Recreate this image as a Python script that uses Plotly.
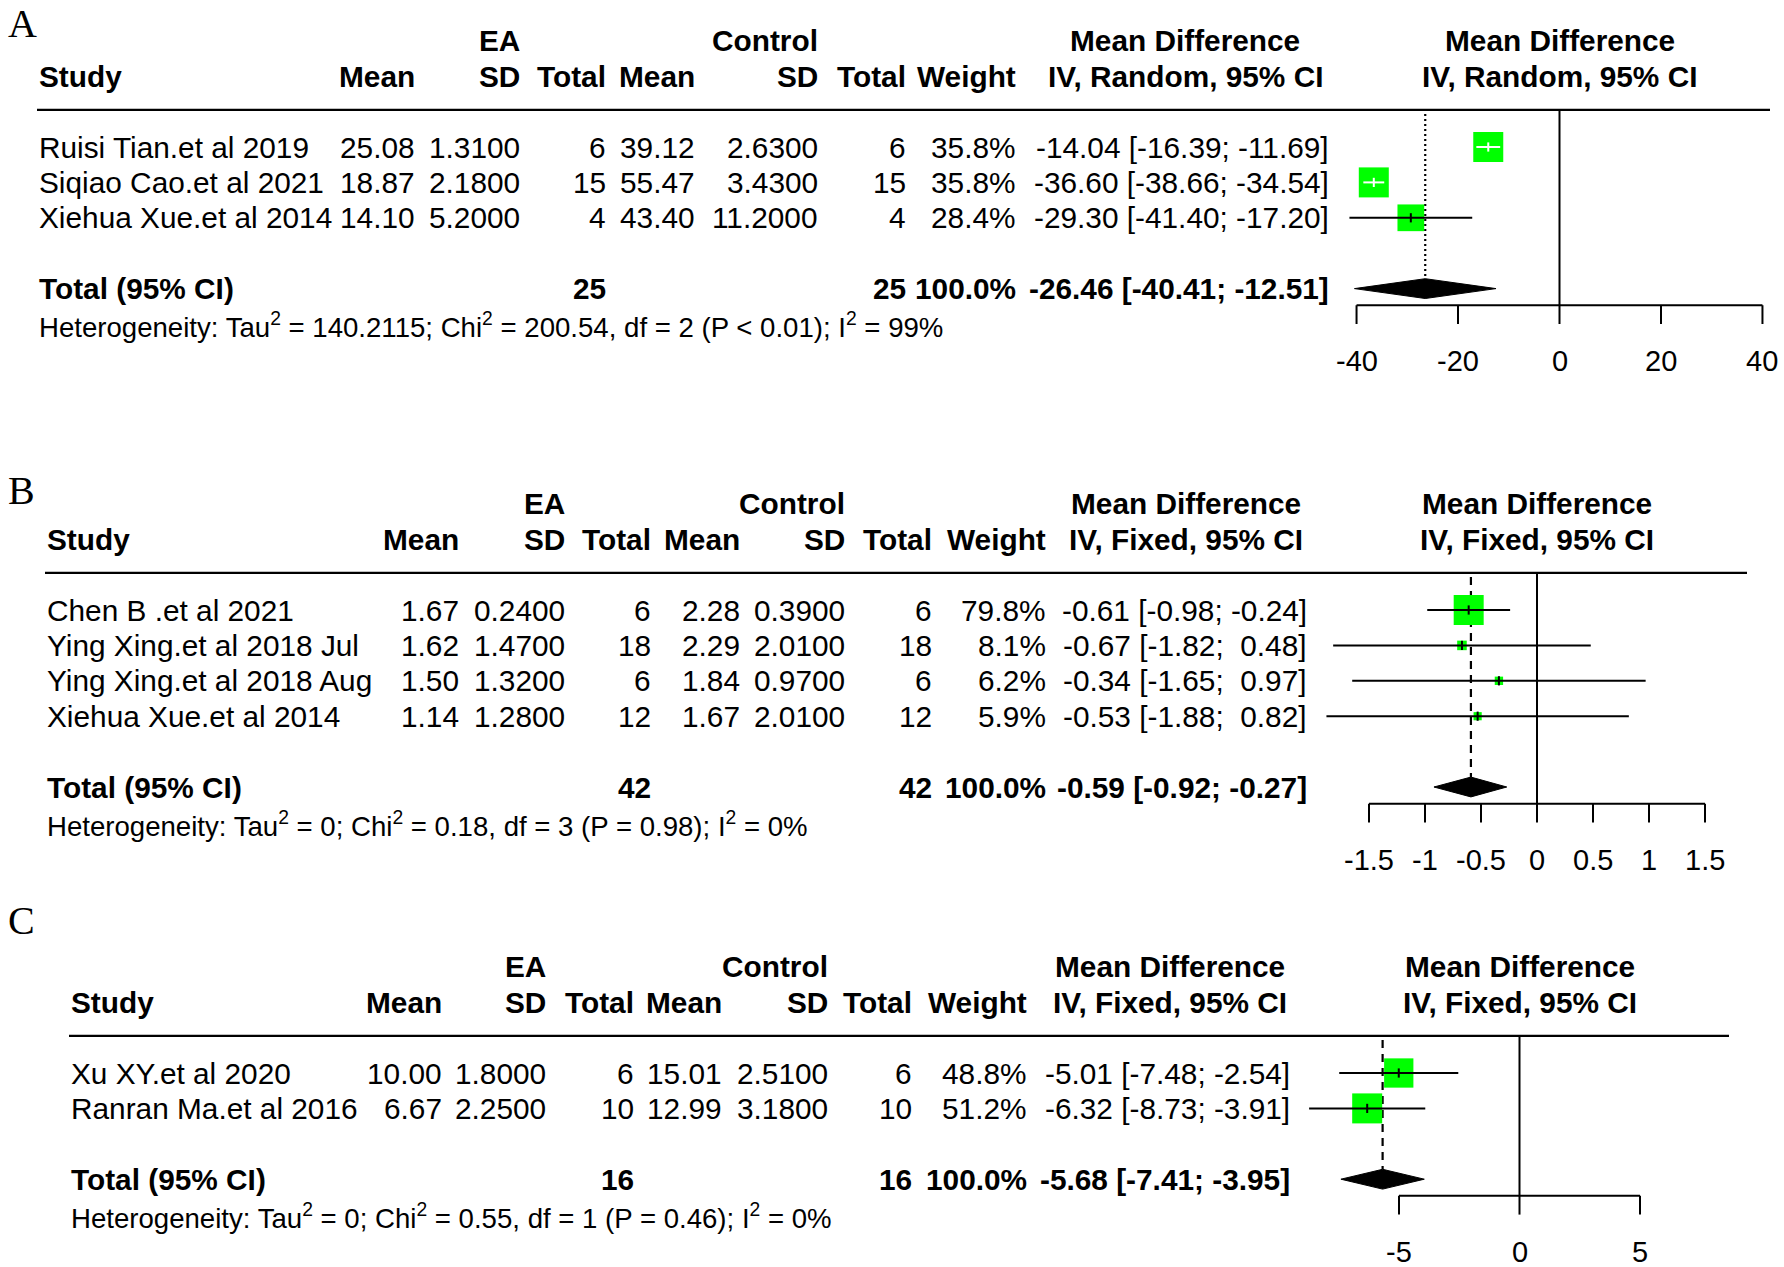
import plotly.graph_objects as go

W, H = 1784, 1267
SANS = "Liberation Sans, Arial, Helvetica, sans-serif"
SERIF = "Liberation Serif, Times New Roman, serif"
GREEN = "#00FF00"
ROW = 35.4      # px per table row
FS = 29.8       # body font size

# ---- panel A (random effects)
a_study = ["Ruisi Tian.et al 2019", "Siqiao Cao.et al 2021", "Xiehua Xue.et al 2014"]
a_ea_mean = [25.08, 18.87, 14.10]
a_ea_sd = [1.31, 2.18, 5.20]
a_ea_n = [6, 15, 4]
a_ct_mean = [39.12, 55.47, 43.40]
a_ct_sd = [2.63, 3.43, 11.20]
a_ct_n = [6, 15, 4]
a_weight = [35.8, 35.8, 28.4]
a_md = [-14.04, -36.60, -29.30]
a_lo = [-16.39, -38.66, -41.40]
a_hi = [-11.69, -34.54, -17.20]
a_total = [-26.46, -40.41, -12.51]
a_het = ("Heterogeneity: Tau<sup>2</sup> = 140.2115; Chi<sup>2</sup> = 200.54, "
         "df = 2 (P &lt; 0.01); I<sup>2</sup> = 99%")
a_ticks = [-40, -20, 0, 20, 40]

# ---- panel B (fixed effect)
b_study = ["Chen B .et al 2021", "Ying Xing.et al 2018 Jul", "Ying Xing.et al 2018 Aug",
           "Xiehua Xue.et al 2014"]
b_ea_mean = [1.67, 1.62, 1.50, 1.14]
b_ea_sd = [0.24, 1.47, 1.32, 1.28]
b_ea_n = [6, 18, 6, 12]
b_ct_mean = [2.28, 2.29, 1.84, 1.67]
b_ct_sd = [0.39, 2.01, 0.97, 2.01]
b_ct_n = [6, 18, 6, 12]
b_weight = [79.8, 8.1, 6.2, 5.9]
b_md = [-0.61, -0.67, -0.34, -0.53]
b_lo = [-0.98, -1.82, -1.65, -1.88]
b_hi = [-0.24, 0.48, 0.97, 0.82]
b_total = [-0.59, -0.92, -0.27]
b_het = ("Heterogeneity: Tau<sup>2</sup> = 0; Chi<sup>2</sup> = 0.18, "
         "df = 3 (P = 0.98); I<sup>2</sup> = 0%")
b_ticks = [-1.5, -1, -0.5, 0, 0.5, 1, 1.5]

# ---- panel C (fixed effect)
c_study = ["Xu XY.et al 2020", "Ranran Ma.et al 2016"]
c_ea_mean = [10.00, 6.67]
c_ea_sd = [1.80, 2.25]
c_ea_n = [6, 10]
c_ct_mean = [15.01, 12.99]
c_ct_sd = [2.51, 3.18]
c_ct_n = [6, 10]
c_weight = [48.8, 51.2]
c_md = [-5.01, -6.32]
c_lo = [-7.48, -8.73]
c_hi = [-2.54, -3.91]
c_total = [-5.68, -7.41, -3.95]
c_het = ("Heterogeneity: Tau<sup>2</sup> = 0; Chi<sup>2</sup> = 0.55, "
         "df = 1 (P = 0.46); I<sup>2</sup> = 0%")
c_ticks = [-5, 0, 5]

panels = [
    dict(letter="A", letter_y=23, model="Random", row0=147, zero=1559.5, ppu=5.074,
         cols=[37, 417, 522, 608, 697, 820, 908, 1018, 1331], md_head=1185, line_end=1770,
         dash="2px,3px",
         study=a_study, ea_mean=a_ea_mean, ea_sd=a_ea_sd, ea_n=a_ea_n, ct_mean=a_ct_mean,
         ct_sd=a_ct_sd, ct_n=a_ct_n, weight=a_weight, md=a_md, lo=a_lo, hi=a_hi,
         total=a_total, het=a_het, ticks=a_ticks),
    dict(letter="B", letter_y=490, model="Fixed", row0=610, zero=1537, ppu=112.0,
         cols=[45, 461, 567, 653, 742, 847, 934, 1048, 1309], md_head=1186, line_end=1747,
         dash="8px,6px",
         study=b_study, ea_mean=b_ea_mean, ea_sd=b_ea_sd, ea_n=b_ea_n, ct_mean=b_ct_mean,
         ct_sd=b_ct_sd, ct_n=b_ct_n, weight=b_weight, md=b_md, lo=b_lo, hi=b_hi,
         total=b_total, het=b_het, ticks=b_ticks),
    dict(letter="C", letter_y=920, model="Fixed", row0=1073, zero=1519.5, ppu=24.1,
         cols=[69, 444, 548, 636, 724, 830, 914, 1029, 1292], md_head=1170, line_end=1729,
         dash="8px,6px",
         study=c_study, ea_mean=c_ea_mean, ea_sd=c_ea_sd, ea_n=c_ea_n, ct_mean=c_ct_mean,
         ct_sd=c_ct_sd, ct_n=c_ct_n, weight=c_weight, md=c_md, lo=c_lo, hi=c_hi,
         total=c_total, het=c_het, ticks=c_ticks),
]


def ci_strings(est, lo, hi):
    # pad numbers like R meta does, so positive values get a leading space
    e = [f"{v:.2f}" for v in est]
    l = [f"{v:.2f}" for v in lo]
    h = [f"{v:.2f}" for v in hi]
    we, wl, wh = max(map(len, e)), max(map(len, l)), max(map(len, h))
    out = []
    for a, b, c in zip(e, l, h):
        s = f"{a.rjust(we)} [{b.rjust(wl)}; {c.rjust(wh)}]"
        out.append(s.replace(" ", "\u00a0"))
    return out


def txt(s, x, y, yref, xref="paper", anchor="right", size=FS, bold=False, family=SANS):
    return dict(text=s, x=x / W if xref == "paper" else x, y=y,
                xref=xref, yref=yref, xanchor=anchor, yanchor="middle", showarrow=False,
                font=dict(family=family, size=size, color="black",
                          weight="bold" if bold else "normal"))


fig = go.Figure()
annotations = []
shapes = []

for i, p in enumerate(panels, start=1):
    sfx = "" if i == 1 else str(i)
    xa, ya = "x" + sfx, "y" + sfx
    k = len(p["study"])
    c = p["cols"]
    rows = list(range(k))
    tot_row = k + 1
    het_row = k + 2.05
    hl_row = -1.05
    ax_row = k + 1.47
    lab_row = k + 3.05
    dh = 0.28

    fig.update_layout({
        "xaxis" + sfx: dict(domain=[0, 1], range=[-p["zero"] / p["ppu"], (W - p["zero"]) / p["ppu"]],
                            visible=False, anchor=ya, fixedrange=True),
        "yaxis" + sfx: dict(domain=[0, 1], range=[(H - p["row0"]) / ROW, -p["row0"] / ROW],
                            visible=False, anchor=xa, fixedrange=True),
    })

    # panel letter
    annotations.append(dict(text=p["letter"], x=6 / W, y=1 - p["letter_y"] / H,
                            xref="paper", yref="paper", xanchor="left", yanchor="middle",
                            showarrow=False, font=dict(family=SERIF, size=40, color="black")))

    # headers
    annotations += [
        txt("EA", c[2], -3, ya, bold=True),
        txt("Control", c[5], -3, ya, bold=True),
        txt("Mean Difference", p["md_head"], -3, ya, anchor="center", bold=True),
        txt("Mean Difference", 0, -3, ya, xref=xa, anchor="center", bold=True),
        txt("Study", c[0], -2, ya, anchor="left", bold=True),
        txt("Mean", c[1], -2, ya, bold=True),
        txt("SD", c[2], -2, ya, bold=True),
        txt("Total", c[3], -2, ya, bold=True),
        txt("Mean", c[4], -2, ya, bold=True),
        txt("SD", c[5], -2, ya, bold=True),
        txt("Total", c[6], -2, ya, bold=True),
        txt("Weight", c[7], -2, ya, bold=True),
        txt(f"IV, {p['model']}, 95% CI", p["md_head"], -2, ya, anchor="center", bold=True),
        txt(f"IV, {p['model']}, 95% CI", 0, -2, ya, xref=xa, anchor="center", bold=True),
    ]
    shapes.append(dict(type="line", xref="paper", yref=ya, x0=c[0] / W,
                       x1=p["line_end"] / W, y0=hl_row, y1=hl_row,
                       line=dict(color="black", width=2.2)))

    # study rows
    ci_txt = ci_strings(p["md"], p["lo"], p["hi"])
    for r in rows:
        annotations += [
            txt(p["study"][r], c[0], r, ya, anchor="left"),
            txt(f"{p['ea_mean'][r]:.2f}", c[1], r, ya),
            txt(f"{p['ea_sd'][r]:.4f}", c[2], r, ya),
            txt(str(p["ea_n"][r]), c[3], r, ya),
            txt(f"{p['ct_mean'][r]:.2f}", c[4], r, ya),
            txt(f"{p['ct_sd'][r]:.4f}", c[5], r, ya),
            txt(str(p["ct_n"][r]), c[6], r, ya),
            txt(f"{p['weight'][r]:.1f}%", c[7], r, ya),
            txt(ci_txt[r], c[8], r, ya),
        ]

    # total row
    t_est, t_lo, t_hi = p["total"]
    annotations += [
        txt("Total (95% CI)", c[0], tot_row, ya, anchor="left", bold=True),
        txt(str(sum(p["ea_n"])), c[3], tot_row, ya, bold=True),
        txt(str(sum(p["ct_n"])), c[6], tot_row, ya, bold=True),
        txt(f"{sum(p['weight']):.1f}%", c[7], tot_row, ya, bold=True),
        txt(ci_strings([t_est], [t_lo], [t_hi])[0], c[8], tot_row, ya, bold=True),
        txt(p["het"], c[0], het_row, ya, anchor="left", size=27.6),
    ]

    # zero line and summary line
    fig.add_trace(go.Scatter(x=[0, 0], y=[hl_row, ax_row], mode="lines", xaxis=xa, yaxis=ya,
                             line=dict(color="black", width=2), hoverinfo="skip"))
    fig.add_trace(go.Scatter(x=[t_est, t_est], y=[hl_row + 0.12, tot_row - dh], mode="lines",
                             xaxis=xa, yaxis=ya, hoverinfo="skip",
                             line=dict(color="black", width=2.2, dash=p["dash"])))

    # squares sized by sqrt(weight)
    wmax = max(p["weight"])
    sizes = [30 * (w / wmax) ** 0.5 for w in p["weight"]]
    fig.add_trace(go.Scatter(x=p["md"], y=rows, mode="markers", xaxis=xa, yaxis=ya,
                             marker=dict(symbol="square", size=sizes, color=GREEN, opacity=1,
                                         line=dict(width=0)), hoverinfo="skip"))

    # CI lines (white when hidden inside the square)
    seg = {"black": ([], []), "white": ([], [])}
    for r in rows:
        half = sizes[r] / 2 / p["ppu"]
        inside = p["lo"][r] >= p["md"][r] - half and p["hi"][r] <= p["md"][r] + half
        xs, ys = seg["white" if inside else "black"]
        xs += [p["lo"][r], p["hi"][r], None, p["md"][r], p["md"][r], None]
        ys += [r, r, None, r - 0.13, r + 0.13, None]
    for col, (xs, ys) in seg.items():
        if xs:
            fig.add_trace(go.Scatter(x=xs, y=ys, mode="lines", xaxis=xa, yaxis=ya,
                                     line=dict(color=col, width=2), hoverinfo="skip"))

    # summary diamond
    fig.add_trace(go.Scatter(x=[t_lo, t_est, t_hi, t_est, t_lo],
                             y=[tot_row, tot_row - dh, tot_row, tot_row + dh, tot_row],
                             mode="lines", fill="toself", fillcolor="black", xaxis=xa, yaxis=ya,
                             line=dict(color="black", width=1), hoverinfo="skip"))

    # x axis drawn on the panel scale
    tk = p["ticks"]
    ax_x, ax_y = [tk[0], tk[-1], None], [ax_row, ax_row, None]
    for t in tk:
        ax_x += [t, t, None]
        ax_y += [ax_row, ax_row + 0.53, None]
        annotations.append(txt(f"{t:g}", t, lab_row, ya, xref=xa, anchor="center", size=29))
    fig.add_trace(go.Scatter(x=ax_x, y=ax_y, mode="lines", xaxis=xa, yaxis=ya,
                             line=dict(color="black", width=2), hoverinfo="skip"))

fig.update_layout(width=W, height=H, autosize=False, showlegend=False,
                  margin=dict(l=0, r=0, t=0, b=0),
                  paper_bgcolor="white", plot_bgcolor="rgba(0,0,0,0)",
                  annotations=annotations, shapes=shapes)

# the page body has a default 8px margin; drop it so the figure fills the window
fig.write_html("out.html", config={"displayModeBar": False},
               post_script="document.body.style.margin='0';")
